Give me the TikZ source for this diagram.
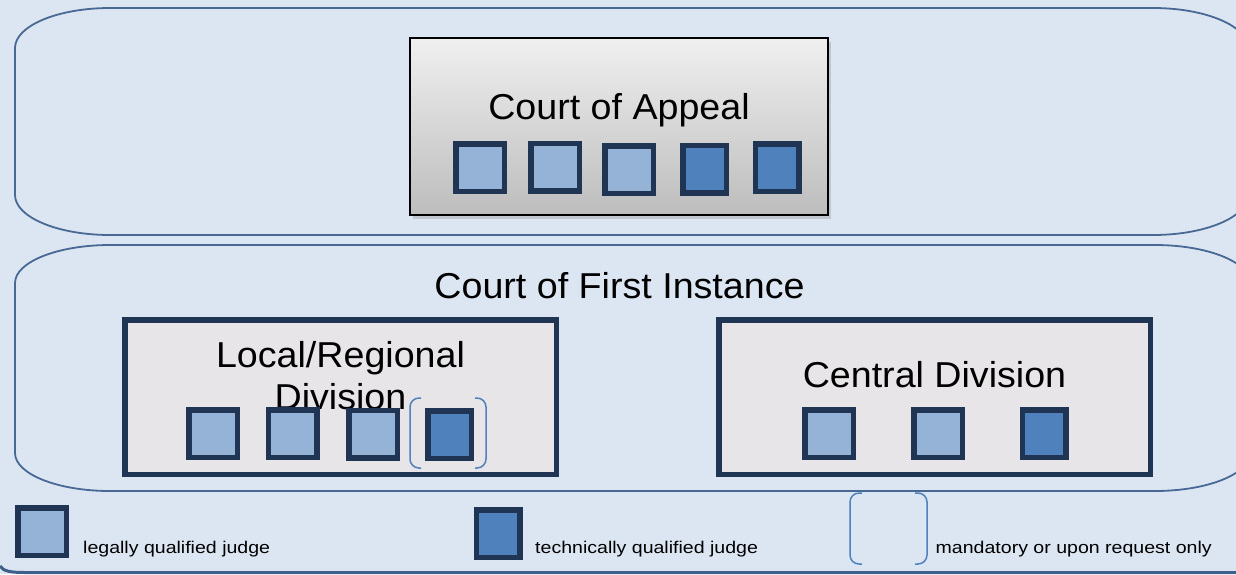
\documentclass[tikz,border=0pt]{standalone}
\usepackage{fontspec}
\setmainfont{Liberation Sans}
\newfontfamily\bigfont[FakeStretch=1.045]{Liberation Sans}
\newfontfamily\smallfont[FakeStretch=1.15]{Liberation Sans}
\usetikzlibrary{shadows}
\definecolor{bg}{RGB}{220,230,242}
\definecolor{framec}{RGB}{72,105,148}
\definecolor{navy}{RGB}{31,53,83}
\definecolor{lightj}{RGB}{149,179,215}
\definecolor{darkj}{RGB}{79,129,189}
\definecolor{divfill}{RGB}{231,229,231}
\definecolor{bline}{RGB}{62,95,138}
\tikzset{
  judgeL/.style={draw=navy, line width=5.5pt, fill=lightj, minimum width=48.5pt, minimum height=47.5pt, inner sep=0pt},
  judgeT/.style={judgeL, fill=darkj, minimum width=43.5pt},
  bigtext/.style={font=\bigfont\fontsize{36}{42}\selectfont, inner sep=0pt, anchor=base},
  legtext/.style={font=\smallfont\fontsize{17}{20}\selectfont, inner sep=0pt, anchor=base west},
  courtframe/.style={draw=framec, line width=1.8pt},
  divbox/.style={draw=navy, line width=5.5pt, fill=divfill, minimum width=431.5pt, minimum height=154.5pt, inner sep=0pt},
  bracketline/.style={draw=darkj, line width=1.5pt, rounded corners=9pt},
}
\begin{document}
\begin{tikzpicture}[x=1pt,y=-1pt]
\fill[bg] (0,0) rectangle (1236,574);
\useasboundingbox (0,0) rectangle (1236,574);

% outer court frames
\draw[courtframe] (110,8) -- (1153,8) .. controls (1205.4,8) and (1248,25.9) .. (1248,48) -- (1248,195) .. controls (1248,217.1) and (1205.4,235) .. (1153,235) -- (110,235) .. controls (57.6,235) and (15,217.1) .. (15,195) -- (15,48) .. controls (15,25.9) and (57.6,8) .. (110,8) -- cycle;
\draw[courtframe] (110,245) -- (1155,245) .. controls (1207.4,245) and (1250,262) .. (1250,283) -- (1250,453) .. controls (1250,474) and (1207.4,491) .. (1155,491) -- (110,491) .. controls (57.6,491) and (15,474) .. (15,453) -- (15,283) .. controls (15,262) and (57.6,245) .. (110,245) -- cycle;

% bottom line
\draw[bline, line width=3pt] (0,566) .. controls (3,571) and (10,572.5) .. (25,572.5) -- (1236,572.5);

% Court of Appeal
\node[draw=black, line width=2pt, top color=white!94!black, bottom color=white!74!black, minimum width=418pt, minimum height=177pt, inner sep=0pt,
      drop shadow={shadow xshift=3pt, shadow yshift=-4pt, opacity=0.3}] (coa) at (619,126.5) {};
\node[bigtext] (coatext) at (619,119) {Court of Appeal};
\node[judgeL] (coa1) at (480,167.5) {};
\node[judgeL] (coa2) at (555,167) {};
\node[judgeL] (coa3) at (629,169.5) {};
\node[judgeT] (coa4) at (704.5,169) {};
\node[judgeT] (coa5) at (777,167.5) {};

% Court of First Instance
\node[bigtext] (cfi) at (619.5,298) {Court of First Instance};

\node[divbox] (local) at (340.5,397) {};
\node[bigtext] (localtext1) at (340.5,367) {Local/Regional};
\node[bigtext] (localtext2) at (340.5,409) {Division};
\node[judgeL] (loc1) at (213,433.5) {};
\node[judgeL] (loc2) at (292.5,433.5) {};
\node[judgeL] (loc3) at (373,434) {};
\node[judgeT] (loc4) at (449.5,434.5) {};
\draw[bracketline] (421,398) -- (410,398) -- (410,468) -- (421,468);
\draw[bracketline] (475,398) -- (486,398) -- (486,468) -- (475,468);

\node[divbox] (central) at (934.5,397) {};
\node[bigtext] (centraltext) at (934.5,387) {Central Division};
\node[judgeL] (cen1) at (829,433.5) {};
\node[judgeL] (cen2) at (938,433.5) {};
\node[judgeT] (cen3) at (1044,433.5) {};

% legend
\node[judgeL] (legL) at (42,531.5) {};
\node[legtext] (legLtext) at (83,553) {legally qualified judge};
\node[judgeT] (legT) at (498,533.5) {};
\node[legtext] (legTtext) at (535,553) {technically qualified judge};
\draw[bracketline] (862,493) -- (850,493) -- (850,564) -- (862,564);
\draw[bracketline] (915,493) -- (927,493) -- (927,564) -- (915,564);
\node[legtext] (legBtext) at (935.5,553) {mandatory or upon request only};
\end{tikzpicture}
\end{document}
